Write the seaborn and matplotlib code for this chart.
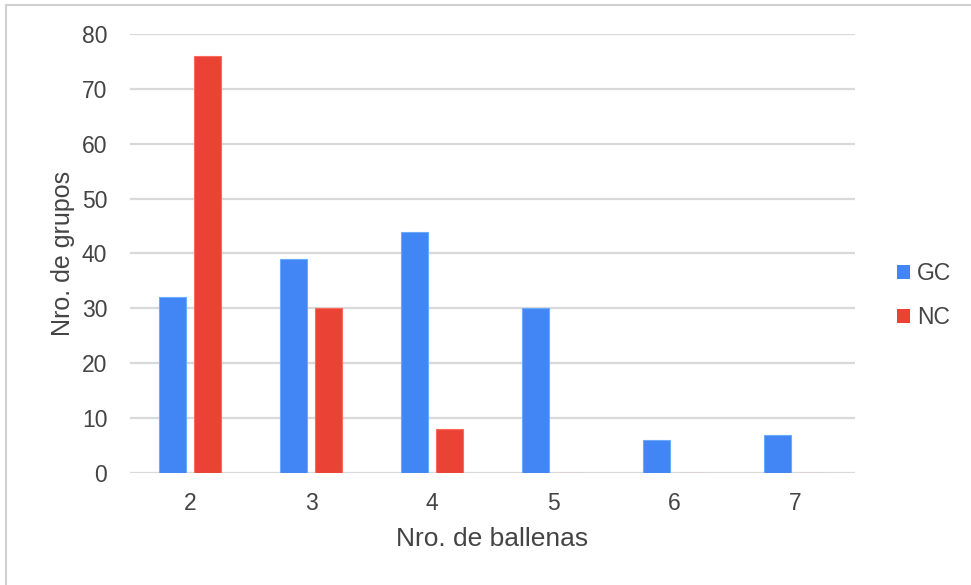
import matplotlib
matplotlib.use("Agg")
import matplotlib.pyplot as plt
import matplotlib.patches as mpatches
from matplotlib.lines import Line2D
import seaborn as sns
import pandas as pd

# Group sizes and counts per category
ballenas = ["2", "3", "4", "5", "6", "7"]
gc_values = [32, 39, 44, 30, 6, 7]
nc_values = [76, 30, 8, 0, 0, 0]
series = ["GC", "NC"]
colors = {"GC": "#4285F4", "NC": "#EA4335"}
yticks = [0, 10, 20, 30, 40, 50, 60, 70, 80]

df = pd.DataFrame({
    "ballenas": ballenas * 2,
    "grupos": gc_values + nc_values,
    "serie": ["GC"] * len(ballenas) + ["NC"] * len(ballenas),
})

sns.set_theme(style="white")
plt.rcParams["font.family"] = ["Liberation Sans", "DejaVu Sans"]
text_color = "#444444"

fig = plt.figure(figsize=(9.71, 5.85), dpi=100)
ax = fig.add_axes([0.1334, 0.1915, 0.7476, 0.7504])

sns.barplot(data=df, x="ballenas", y="grupos", hue="serie", order=ballenas,
            hue_order=series, palette=colors, width=0.58, gap=0.23,
            errorbar=None, legend=False, ax=ax, saturation=1)

for patch in ax.patches:
    fc = patch.get_facecolor()
    patch.set_edgecolor((min(fc[0] + 0.15, 1), min(fc[1] + 0.15, 1), min(fc[2] + 0.15, 1), 1))
    patch.set_linewidth(0.8)

ax.set_ylim(0, 80)
ax.set_xlim(-0.5, len(ballenas) - 0.5)
ax.set_yticks(yticks)
ax.yaxis.grid(True, color="#d9d9d9", linewidth=1.6)
ax.set_axisbelow(True)
for s in ax.spines.values():
    s.set_visible(False)
ax.tick_params(axis="both", length=0, labelsize=16.5, labelcolor=text_color)
ax.tick_params(axis="y", pad=16)
ax.tick_params(axis="x", pad=14)
ax.set_xlabel("Nro. de ballenas", fontsize=19, color=text_color, labelpad=8)
ax.set_ylabel("Nro. de grupos", fontsize=18, color=text_color, labelpad=5)

handles = [mpatches.Patch(facecolor=colors[s], edgecolor="none", label=s) for s in series]
fig.legend(handles=handles, loc="center left", bbox_to_anchor=(0.924, 0.495),
           frameon=False, fontsize=16.5, handlelength=0.55, handleheight=0.55,
           handletextpad=0.3, labelspacing=0.9, labelcolor=text_color,
           borderpad=0, borderaxespad=0)

# Light frame around the chart area
fig.add_artist(Line2D([0.006, 1.0], [0.992, 0.992], color="#d0d0d0", linewidth=1.5,
                      transform=fig.transFigure))
fig.add_artist(Line2D([0.0062, 0.0062], [0.0, 0.992], color="#d0d0d0", linewidth=1.5,
                      transform=fig.transFigure))

fig.savefig("out.png", dpi=100, facecolor="white")
